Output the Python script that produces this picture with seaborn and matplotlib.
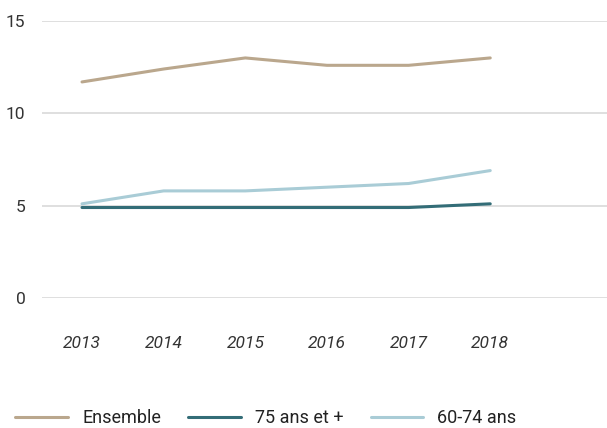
import pandas as pd
import seaborn as sns
import matplotlib.pyplot as plt

# --- data ---
years = [2013, 2014, 2015, 2016, 2017, 2018]
ensemble = [11.7, 12.4, 13.0, 12.6, 12.6, 13.0]
ans_75_plus = [4.9, 4.9, 4.9, 4.9, 4.9, 5.1]
ans_60_74 = [5.1, 5.8, 5.8, 6.0, 6.2, 6.9]
series_names = ["Ensemble", "75 ans et +", "60-74 ans"]
colors = ["#baa78d", "#336d77", "#a9ccd6"]
y_ticks = [0, 5, 10, 15]

df = pd.DataFrame({
    "year": years * 3,
    "value": ensemble + ans_75_plus + ans_60_74,
    "serie": [series_names[0]] * 6 + [series_names[1]] * 6 + [series_names[2]] * 6,
})

sns.set_theme(style="white")
plt.rcParams["font.family"] = ["Roboto", "DejaVu Sans"]

fig = plt.figure(figsize=(6.07, 4.28), dpi=100)
ax = fig.add_axes([42 / 607, 130 / 428, 565 / 607, 277 / 428])

sns.lineplot(data=df, x="year", y="value", hue="serie", hue_order=series_names,
             palette=colors, linewidth=2.2, ax=ax, legend=False)

ax.set_ylim(0, 15)
ax.set_xlim(2013 - 0.49, 2018 + 1.43)
ax.set_yticks(y_ticks)
ax.set_xticks(years)
ax.yaxis.grid(True, color="#dcdcdc", linewidth=1.3)
ax.set_axisbelow(True)
for s in ax.spines.values():
    s.set_visible(False)
ax.set_xlabel("")
ax.set_ylabel("")
ax.tick_params(axis="y", length=0, pad=12, labelsize=12.5, labelcolor="#333333")
ax.tick_params(axis="x", length=0, pad=27, labelsize=12.5, labelcolor="#333333")
for lbl in ax.get_xticklabels():
    lbl.set_fontstyle("italic")

handles = [plt.Line2D([0], [0], color=c, linewidth=2.2) for c in colors]
fig.legend(handles, series_names, loc="center", bbox_to_anchor=(266 / 607, 10 / 428),
           ncol=3, frameon=False, fontsize=13, handlelength=2.9,
           columnspacing=1.5, handletextpad=0.8, labelcolor="#222222",
           borderpad=0, borderaxespad=0)

fig.savefig("out.png", dpi=100)
